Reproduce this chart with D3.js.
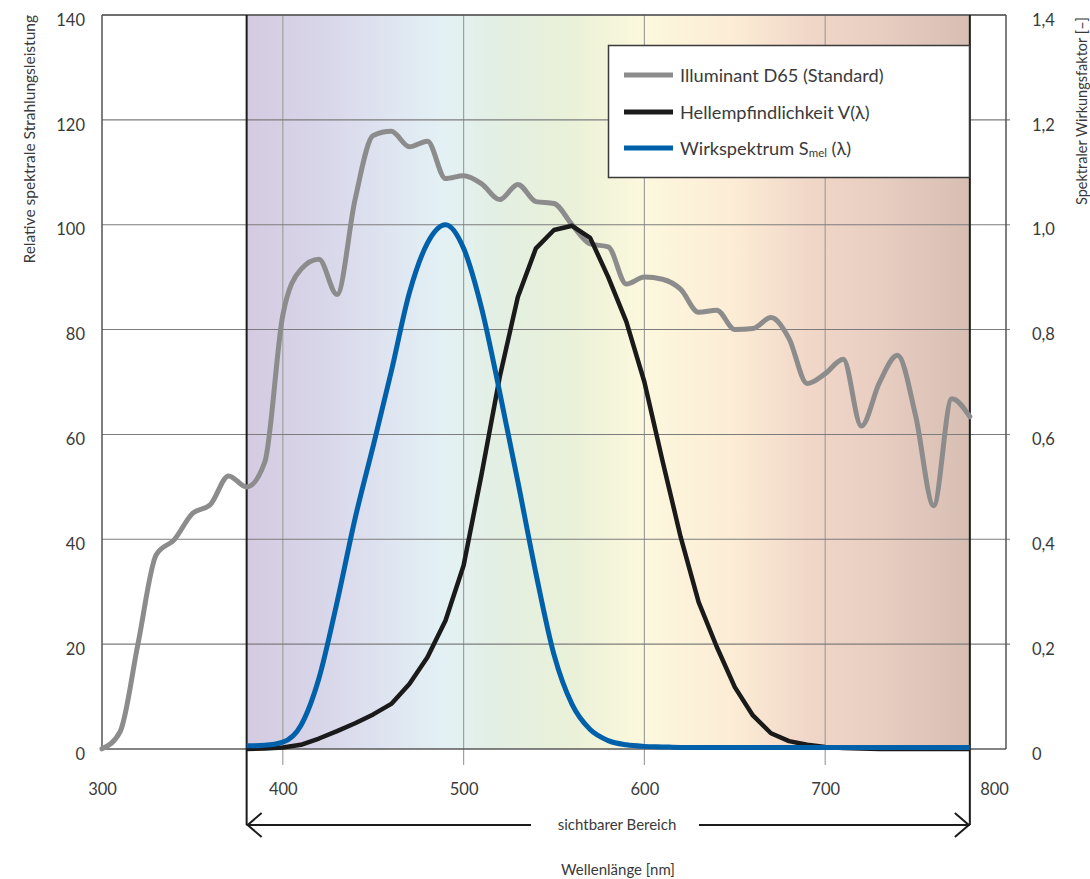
<!DOCTYPE html>
<html>
<head>
<meta charset="utf-8">
<script src="https://cdn.jsdelivr.net/npm/d3@7"></script>
<style>
  html, body { margin: 0; padding: 0; background: #fff; }
  svg { display: block; font-family: "Lato", "Open Sans", sans-serif; }
</style>
</head>
<body>
<svg id="chart" width="1090" height="879"></svg>
<script>
// ---------- data ----------
const d65Nm = [300,310,320,330,340,350,360,370,380,390,400,410,420,430,440,450,460,470,480,490,500,510,520,530,540,550,560,570,580,590,600,610,620,630,640,650,660,670,680,690,700,710,720,730,740,750,760,770,780];
const d65Values = [0.03,3.29,20.24,37.05,39.95,44.91,46.64,52.09,49.98,54.65,82.75,91.49,93.43,86.68,104.86,117.01,117.81,114.86,115.92,108.81,109.35,107.80,104.79,107.69,104.41,104.05,100.00,96.33,95.79,88.69,90.01,89.60,87.70,83.29,83.70,80.03,80.21,82.28,78.28,69.72,71.61,74.35,61.60,69.89,75.09,63.59,46.42,66.81,63.38];

const visNm = [380,390,400,410,420,430,440,450,460,470,480,490,500,510,520,530,540,550,560,570,580,590,600,610,620,630,640,650,660,670,680,690,700,710,720,730,740,750,760,770,780];
const vLambda = [0.000,0.001,0.003,0.008,0.020,0.034,0.049,0.066,0.086,0.124,0.175,0.245,0.350,0.525,0.710,0.862,0.955,0.990,0.998,0.975,0.900,0.815,0.700,0.550,0.405,0.280,0.195,0.118,0.064,0.030,0.015,0.008,0.004,0.002,0.001,0.000,0.000,0.000,0.000,0.000,0.000];
const sMel = [0.006,0.007,0.013,0.045,0.135,0.280,0.440,0.578,0.720,0.870,0.965,1.000,0.955,0.840,0.680,0.510,0.335,0.180,0.085,0.037,0.016,0.008,0.005,0.004,0.003,0.003,0.003,0.003,0.003,0.003,0.003,0.003,0.003,0.003,0.003,0.003,0.003,0.003,0.003,0.003,0.003];

const xTicks = [300,400,500,600,700,800];
const yTicks = [0,20,40,60,80,100,120,140];
const y2Ticks = [0,0.2,0.4,0.6,0.8,1.0,1.2,1.4];
const y2Labels = ["0","0,2","0,4","0,6","0,8","1,0","1,2","1,4"];

const seriesNames = ["Illuminant D65 (Standard)", "Hellempfindlichkeit V(λ)", "Wirkspektrum S"];

// background spectrum gradient (style)
const gradStops = [
  [380, "#d4cbe1"], [420, "#d8d5e9"], [460, "#dfe5f1"], [490, "#e3f1f4"],
  [520, "#e3efe2"], [560, "#eaf1d8"], [600, "#fcf8dd"], [650, "#fcecd5"],
  [690, "#f1d7c8"], [730, "#e8cdc1"], [780, "#d7beb3"]
];

// ---------- scales ----------
const svg = d3.select("#chart");
const x = d3.scaleLinear().domain([300, 800]).range([102, 1006]);
const y = d3.scaleLinear().domain([0, 140]).range([749, 15]);
const y2 = d3.scaleLinear().domain([0, 1.4]).range([749, 15]);

const defs = svg.append("defs");
const grad = defs.append("linearGradient").attr("id", "spec")
  .attr("gradientUnits", "userSpaceOnUse")
  .attr("x1", x(380)).attr("x2", x(780)).attr("y1", 0).attr("y2", 0);
grad.selectAll("stop").data(gradStops).join("stop")
  .attr("offset", d => (d[0] - 380) / 400)
  .attr("stop-color", d => d[1]);

svg.append("rect")
  .attr("x", x(380)).attr("y", y(140))
  .attr("width", x(780) - x(380)).attr("height", y(0) - y(140))
  .attr("fill", "url(#spec)");

// vertical gridlines (inner ticks extend below axis)
svg.append("g").selectAll("line").data(xTicks.filter(d => d > 300 && d < 800)).join("line")
  .attr("x1", d => x(d)).attr("x2", d => x(d))
  .attr("y1", y(140)).attr("y2", y(0) + 16)
  .attr("stroke", "#a0a0a0").attr("stroke-width", 1.2);

// horizontal gridlines
svg.append("g").selectAll("line").data(yTicks).join("line")
  .attr("x1", x(300)).attr("x2", d => (d === 0 || d === 140) ? x(800) : x(800) + 4)
  .attr("y1", d => y(d)).attr("y2", d => y(d))
  .attr("stroke", d => d === 0 ? "#5a5a5a" : "#7c7c7c").attr("stroke-width", d => d === 0 ? 1.5 : 1.1);

// frame
svg.append("line").attr("x1", x(300)).attr("x2", x(300)).attr("y1", y(140)).attr("y2", y(0))
  .attr("stroke", "#555").attr("stroke-width", 1.5);
svg.append("line").attr("x1", x(800)).attr("x2", x(800)).attr("y1", y(140)).attr("y2", y(0))
  .attr("stroke", "#555").attr("stroke-width", 1.5);
svg.append("line").attr("x1", x(300)).attr("x2", x(800)).attr("y1", y(140)).attr("y2", y(140))
  .attr("stroke", "#555").attr("stroke-width", 1.5);

// ---------- lines ----------
const d65Data = d65Nm.map((n, i) => [n, d65Values[i]]);
const vData = visNm.map((n, i) => [n, vLambda[i]]);
const sData = visNm.map((n, i) => [n, sMel[i]]);

const lineD65 = d3.line().x(d => x(d[0])).y(d => y(d[1])).curve(d3.curveMonotoneX);
const lineV = d3.line().x(d => x(d[0])).y(d => y2(d[1])).curve(d3.curveLinear);
const lineS = d3.line().x(d => x(d[0])).y(d => y2(d[1])).curve(d3.curveMonotoneX);

// visible range markers
const arrowY = 825;
svg.append("g").selectAll("line").data([380, 780]).join("line")
  .attr("x1", d => x(d)).attr("x2", d => x(d))
  .attr("y1", y(140)).attr("y2", arrowY)
  .attr("stroke", "#1c1c1c").attr("stroke-width", 2);

svg.append("path").attr("d", lineD65(d65Data))
  .attr("fill", "none").attr("stroke", "#8c8c8c").attr("stroke-width", 5)
  .attr("stroke-linejoin", "round").attr("stroke-linecap", "round");
svg.append("path").attr("d", lineV(vData))
  .attr("fill", "none").attr("stroke", "#1a1a1a").attr("stroke-width", 4.5)
  .attr("stroke-linejoin", "round").attr("stroke-linecap", "butt");
svg.append("path").attr("d", lineS(sData))
  .attr("fill", "none").attr("stroke", "#0061aa").attr("stroke-width", 5)
  .attr("stroke-linejoin", "round").attr("stroke-linecap", "butt");

// ---------- axes labels ----------
const textColor = "#3a3a3a";
const xAxis = svg.append("g").attr("transform", `translate(0,${y(0)})`)
  .call(d3.axisBottom(x).tickValues(xTicks).tickSize(0).tickPadding(34).tickFormat(d3.format("d")));
xAxis.select(".domain").remove();
xAxis.selectAll("text").attr("font-size", 16.5).attr("fill", textColor)
  .attr("font-family", "Lato, sans-serif")
  .attr("dx", d => d === 800 ? -12 : 0);

const yAxis = svg.append("g").attr("transform", `translate(${x(300)},0)`)
  .call(d3.axisLeft(y).tickValues(yTicks).tickSize(0).tickPadding(17));
yAxis.select(".domain").remove();
yAxis.selectAll("text").attr("font-size", 16.5).attr("fill", textColor)
  .attr("font-family", "Lato, sans-serif").attr("dy", "0.62em");

const y2Axis = svg.append("g").attr("transform", `translate(${x(800)},0)`)
  .call(d3.axisRight(y2).tickValues(y2Ticks).tickSize(0).tickPadding(26)
    .tickFormat((d, i) => y2Labels[i]));
y2Axis.select(".domain").remove();
y2Axis.selectAll("text").attr("font-size", 16.5).attr("fill", textColor)
  .attr("font-family", "Lato, sans-serif").attr("dy", "0.62em");

// axis titles
svg.append("text")
  .attr("transform", "translate(35,15) rotate(-90)")
  .attr("text-anchor", "end").attr("font-size", 15.5).attr("fill", textColor)
  .text("Relative spektrale Strahlungsleistung");
svg.append("text")
  .attr("transform", "translate(1087,17) rotate(-90)")
  .attr("text-anchor", "end").attr("font-size", 14.5).attr("fill", textColor)
  .text("Spektraler Wirkungsfaktor [–]");

svg.append("text").attr("x", 618).attr("y", 875)
  .attr("text-anchor", "middle").attr("font-size", 15).attr("fill", textColor)
  .text("Wellenlänge [nm]");

// visible range arrow
svg.append("line").attr("x1", x(380)).attr("x2", 531).attr("y1", arrowY).attr("y2", arrowY)
  .attr("stroke", "#1c1c1c").attr("stroke-width", 2);
svg.append("line").attr("x1", 699).attr("x2", x(780)).attr("y1", arrowY).attr("y2", arrowY)
  .attr("stroke", "#1c1c1c").attr("stroke-width", 2);
svg.append("path")
  .attr("d", `M${x(380) + 15},${arrowY - 12} L${x(380) + 1},${arrowY} L${x(380) + 15},${arrowY + 12}`)
  .attr("fill", "none").attr("stroke", "#1c1c1c").attr("stroke-width", 2);
svg.append("path")
  .attr("d", `M${x(780) - 15},${arrowY - 12} L${x(780) - 1},${arrowY} L${x(780) - 15},${arrowY + 12}`)
  .attr("fill", "none").attr("stroke", "#1c1c1c").attr("stroke-width", 2);
svg.append("text").attr("x", 617).attr("y", arrowY + 5)
  .attr("text-anchor", "middle").attr("font-size", 15).attr("fill", textColor)
  .text("sichtbarer Bereich");

// ---------- legend ----------
const lg = svg.append("g");
lg.append("rect").attr("x", 608.5).attr("y", 45.5).attr("width", 361).attr("height", 132)
  .attr("fill", "#fff").attr("stroke", "#3a3a3a").attr("stroke-width", 1.5);
const legendColors = ["#8c8c8c", "#1a1a1a", "#0061aa"];
const legendY = [75, 112, 148];
lg.selectAll("line.key").data(seriesNames).join("line").attr("class", "key")
  .attr("x1", 624).attr("x2", 673)
  .attr("y1", (d, i) => legendY[i]).attr("y2", (d, i) => legendY[i])
  .attr("stroke", (d, i) => legendColors[i]).attr("stroke-width", 5);
const lt = lg.selectAll("text.key").data(seriesNames).join("text").attr("class", "key")
  .attr("x", 680).attr("y", (d, i) => legendY[i] + 6.5)
  .attr("font-size", 18.2).attr("fill", textColor);
lt.each(function(d, i) {
  const t = d3.select(this);
  if (i < 2) { t.text(d); }
  else {
    t.append("tspan").text(d);
    t.append("tspan").attr("font-size", 11.5).attr("dy", 2).text("mel");
    t.append("tspan").attr("dy", -2).text(" (λ)");
  }
});
</script>
</body>
</html>
